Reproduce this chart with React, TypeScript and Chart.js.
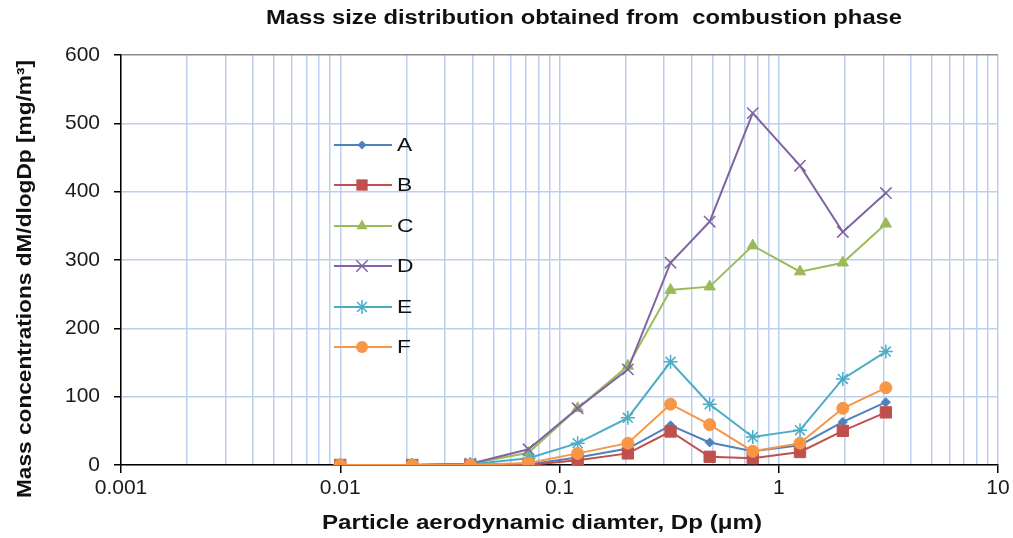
import React, { useEffect, useRef } from "react";
import { Chart, registerables } from "chart.js";

Chart.register(...registerables);

// Particle aerodynamic diameter (µm) – stage midpoints
const sizes = [0.01, 0.0213, 0.0392, 0.0722, 0.121, 0.205, 0.321, 0.484, 0.761, 1.25, 1.96, 3.08];

// Mass concentrations dM/dlogDp [mg/m³]
const seriesA = [0, 0, 1, 1, 11, 24, 58, 33, 20, 29, 63, 92];
const seriesB = [0, 0, 0, 0, 7, 17, 49, 12, 10, 19, 50, 77];
const seriesC = [0, 0, 2, 18, 83, 145, 256, 261, 321, 283, 296, 353];
const seriesD = [0, 0, 2, 23, 83, 140, 296, 356, 515, 438, 341, 398];
const seriesE = [0, 0, 1, 10, 32, 69, 151, 89, 41, 51, 126, 166];
const seriesF = [0, 0, 0, 3, 17, 32, 89, 59, 20, 32, 83, 113];

const seriesNames = ["A", "B", "C", "D", "E", "F"];
const seriesValues = [seriesA, seriesB, seriesC, seriesD, seriesE, seriesF];
const seriesColors = ["#4F81BD", "#C0504D", "#9BBB59", "#8064A2", "#4BACC6", "#F79646"];
const seriesMarkers = ["rectRot", "rect", "triangle", "crossRot", "star", "circle"];
const seriesRadii = [4.5, 8, 6.5, 8, 7, 6];

// x-axis tick values (log decades and minors) and labels
const xDecades = [0.001, 0.01, 0.1, 1, 10];
const xDecadeLabels = ["0.001", "0.01", "0.1", "1", "10"];
const yTicks = [0, 100, 200, 300, 400, 500, 600];

const titleText = "Mass size distribution obtained from  combustion phase";
const xTitleText = "Particle aerodynamic diamter, Dp (\u03bcm)";
const yTitleText = "Mass concentrations dM/dlogDp [mg/m\u00b3]";

const FONT = "'Liberation Sans', Arial, Helvetica, sans-serif";
const GRID = "#BCD0EE";

function buildXTicks() {
  const out: { value: number; major: boolean }[] = [];
  for (let d = 0; d < xDecades.length - 1; d++) {
    for (let k = 1; k <= 9; k++) {
      out.push({ value: parseFloat((xDecades[d] * k).toPrecision(6)), major: k === 1 });
    }
  }
  out.push({ value: xDecades[xDecades.length - 1], major: true });
  return out;
}

function drawMarker(ctx: CanvasRenderingContext2D, style: string, x: number, y: number, r: number, color: string) {
  ctx.save();
  ctx.fillStyle = color;
  ctx.strokeStyle = color;
  ctx.lineWidth = 1.5;
  ctx.beginPath();
  if (style === "rectRot") {
    ctx.moveTo(x, y - r);
    ctx.lineTo(x + r, y);
    ctx.lineTo(x, y + r);
    ctx.lineTo(x - r, y);
    ctx.closePath();
    ctx.fill();
  } else if (style === "rect") {
    const s = r * Math.SQRT1_2;
    ctx.rect(x - s, y - s, 2 * s, 2 * s);
    ctx.fill();
  } else if (style === "triangle") {
    for (let i = 0; i < 3; i++) {
      const a = (i * 2 * Math.PI) / 3;
      const px = x + Math.sin(a) * r;
      const py = y - Math.cos(a) * r;
      if (i === 0) ctx.moveTo(px, py);
      else ctx.lineTo(px, py);
    }
    ctx.closePath();
    ctx.fill();
  } else if (style === "crossRot") {
    const o = r * Math.SQRT1_2;
    ctx.moveTo(x - o, y - o);
    ctx.lineTo(x + o, y + o);
    ctx.moveTo(x - o, y + o);
    ctx.lineTo(x + o, y - o);
    ctx.stroke();
  } else if (style === "star") {
    const o = r * Math.SQRT1_2;
    ctx.moveTo(x - o, y - o);
    ctx.lineTo(x + o, y + o);
    ctx.moveTo(x - o, y + o);
    ctx.lineTo(x + o, y - o);
    ctx.moveTo(x, y - r);
    ctx.lineTo(x, y + r);
    ctx.moveTo(x - r, y);
    ctx.lineTo(x + r, y);
    ctx.stroke();
  } else {
    ctx.arc(x, y, r, 0, Math.PI * 2);
    ctx.fill();
  }
  ctx.restore();
}

// draws text centred at (cx, cy), stretched horizontally to span `width`
function fitText(ctx: CanvasRenderingContext2D, text: string, cx: number, cy: number, width: number, font: string, rotate: boolean) {
  ctx.save();
  ctx.font = font;
  ctx.textAlign = "center";
  ctx.textBaseline = "middle";
  const w = ctx.measureText(text).width;
  const sx = width / w;
  ctx.translate(cx, cy);
  if (rotate) ctx.rotate(-Math.PI / 2);
  ctx.scale(sx, 1);
  ctx.fillText(text, 0, 0);
  ctx.restore();
}

const textPlugin = {
  id: "textPlugin",
  afterDraw(chart: any) {
    const ctx: CanvasRenderingContext2D = chart.ctx;
    ctx.save();
    ctx.fillStyle = "#111";
    fitText(ctx, titleText, 584, 18, 636, `bold 20px ${FONT}`, false);
    fitText(ctx, xTitleText, 542, 523, 440, `bold 20px ${FONT}`, false);
    fitText(ctx, yTitleText, 25, 279, 438, `bold 20px ${FONT}`, true);
    ctx.restore();
  },
};

const legendPlugin = {
  id: "insideLegend",
  afterDatasetsDraw(chart: any) {
    const ctx: CanvasRenderingContext2D = chart.ctx;
    const x0 = 334;
    const x1 = 392;
    const mx = 362;
    const tx = 397;
    const rowY = [145, 185, 226, 266, 307, 347];
    ctx.save();
    seriesNames.forEach((name, i) => {
      const y = rowY[i];
      ctx.strokeStyle = seriesColors[i];
      ctx.lineWidth = 2;
      ctx.beginPath();
      ctx.moveTo(x0, y);
      ctx.lineTo(x1, y);
      ctx.stroke();
      drawMarker(ctx, seriesMarkers[i], mx, y, seriesRadii[i], seriesColors[i]);
      ctx.save();
      ctx.fillStyle = "#111";
      ctx.font = `19px ${FONT}`;
      ctx.textAlign = "left";
      ctx.textBaseline = "middle";
      ctx.translate(tx, y + 1);
      ctx.scale(1.2, 1);
      ctx.fillText(name, 0, 0);
      ctx.restore();
    });
    ctx.restore();
  },
};

export default function App() {
  const canvasRef = useRef<HTMLCanvasElement | null>(null);

  useEffect(() => {
    document.body.style.margin = "0";
    const canvas = canvasRef.current;
    if (!canvas) return;
    const xTicks = buildXTicks();

    const datasets = seriesNames.map((name, i) => ({
      label: name,
      data: sizes.map((s, j) => ({ x: s, y: seriesValues[i][j] })),
      borderColor: seriesColors[i],
      backgroundColor: seriesColors[i],
      borderWidth: 2,
      pointStyle: seriesMarkers[i] as any,
      pointRadius: seriesRadii[i],
      pointBorderWidth: seriesMarkers[i] === "crossRot" || seriesMarkers[i] === "star" ? 1.5 : 1,
      pointBorderColor: seriesColors[i],
      pointBackgroundColor: seriesColors[i],
      tension: 0,
      fill: false,
      order: seriesNames.length - i,
    }));

    const chart = new Chart(canvas, {
      type: "line",
      data: { datasets },
      options: {
        animation: false,
        responsive: false,
        devicePixelRatio: 1,
        layout: { padding: { top: 55, right: 15, left: 0, bottom: 0 } },
        plugins: {
          legend: { display: false },
          title: { display: false },
          tooltip: { enabled: false },
        },
        scales: {
          x: {
            type: "logarithmic",
            min: 0.001,
            max: 10,
            afterBuildTicks: (scale: any) => {
              scale.ticks = xTicks.map((t) => ({ ...t }));
            },
            afterFit: (scale: any) => {
              scale.height = 73;
            },
            border: { color: "#000", width: 1.5 },
            grid: {
              color: GRID,
              lineWidth: 1.5,
              drawTicks: true,
              tickLength: 8,
              tickColor: (c: any) => (c.tick && c.tick.major ? "#000" : "rgba(0,0,0,0)"),
              tickWidth: 1.5,
            },
            ticks: {
              autoSkip: false,
              maxRotation: 0,
              minRotation: 0,
              padding: 3,
              color: "#1a1a1a",
              font: { family: FONT, size: 21 },
              callback: (value: any) => {
                const idx = xDecades.findIndex((d) => Math.abs(d - Number(value)) < d * 1e-6);
                return idx >= 0 ? xDecadeLabels[idx] : "";
              },
            },
          },
          y: {
            type: "linear",
            min: 0,
            max: 600,
            afterBuildTicks: (scale: any) => {
              scale.ticks = yTicks.map((v) => ({ value: v }));
            },
            afterFit: (scale: any) => {
              scale.width = 121;
            },
            border: { color: "#000", width: 1.5 },
            grid: {
              color: (c: any) => (c.tick && c.tick.value === 600 ? "#8c8c8c" : GRID),
              lineWidth: 1.5,
              tickLength: 7,
              tickColor: "#000",
              tickWidth: 1.5,
            },
            ticks: {
              padding: 14,
              color: "#1a1a1a",
              font: { family: FONT, size: 21 },
              callback: (value: any) => String(value),
            },
          },
        },
      },
      plugins: [legendPlugin, textPlugin],
    });

    return () => {
      chart.destroy();
    };
  }, []);

  return (
    <div style={{ width: 1013, height: 538, background: "#fff" }}>
      <canvas ref={canvasRef} width={1013} height={538} style={{ width: 1013, height: 538, display: "block" }} />
    </div>
  );
}
